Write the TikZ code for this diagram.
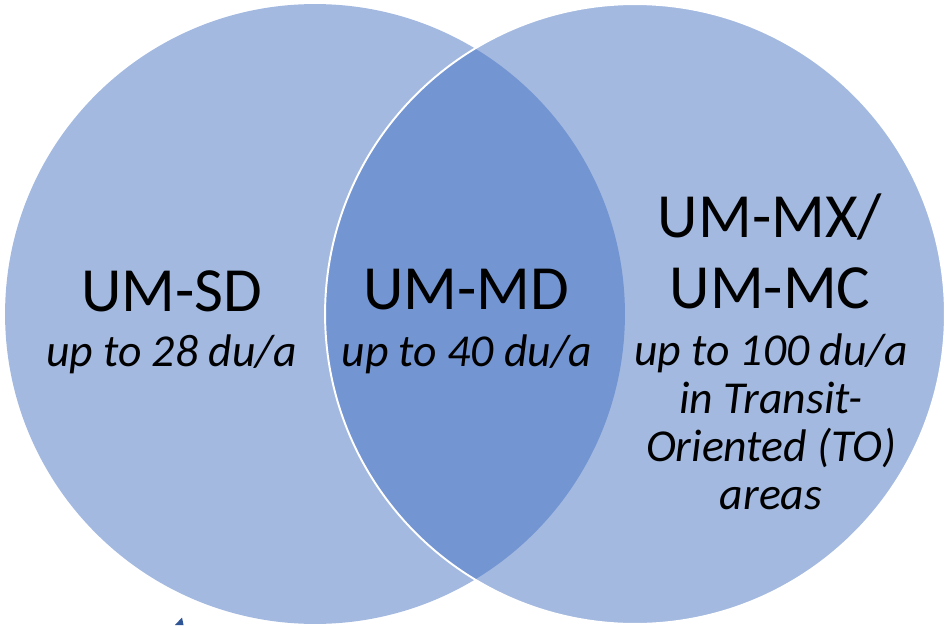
\documentclass[tikz,border=0pt]{standalone}
\usepackage{fontspec}
\setmainfont{Carlito}
\usetikzlibrary{positioning}
\definecolor{vennlight}{RGB}{163, 185, 224}
\definecolor{venndark}{RGB}{115, 149, 210}
\definecolor{markblue}{RGB}{47, 85, 151}

\tikzset{
    zonetitle/.style={inner sep=0pt, align=center, anchor=base,
        font=\fontsize{35.8pt}{40.3pt}\selectfont},
    zonenote/.style={inner sep=0pt, align=center, anchor=base,
        font=\fontsize{26pt}{27.3pt}\selectfont\itshape}
}

\begin{document}
\begin{tikzpicture}[x=0.02cm, y=-0.02cm]
            \useasboundingbox (0,0) rectangle (949,625);

            \fill[vennlight] (315,314) circle [radius=6.2cm];
            \fill[vennlight] (635,314) circle [radius=6.2cm];
            \begin{scope}
                \clip (315,314) circle [radius=6.2cm];
                \fill[venndark] (635,314) circle [radius=6.2cm];
            \end{scope}
            \draw[white, line width=1.1pt] (635,314) circle [radius=6.2cm];

            \node (sd) [zonetitle] at (171.5,311) {UM-SD};
            \node (sd note) [zonenote] at (171.5,366) {up to 28 du/a};

            \node (md) [zonetitle] at (466.5,309) {UM-MD};
            \node (md note) [zonenote] at (467,366) {up to 40 du/a};

            \node (mx) [zonetitle] at (770,308) {UM-MX/\\UM-MC};
            \node (mx note) [zonenote] at (771,509)
            {
                up to 100 du/a\\
                in Transit-\\
                Oriented (TO)\\
                areas
            };

            \fill[markblue] (175,625) -- (182,617.5) -- (183.5,625) -- cycle;
        \end{tikzpicture}
\end{document}
